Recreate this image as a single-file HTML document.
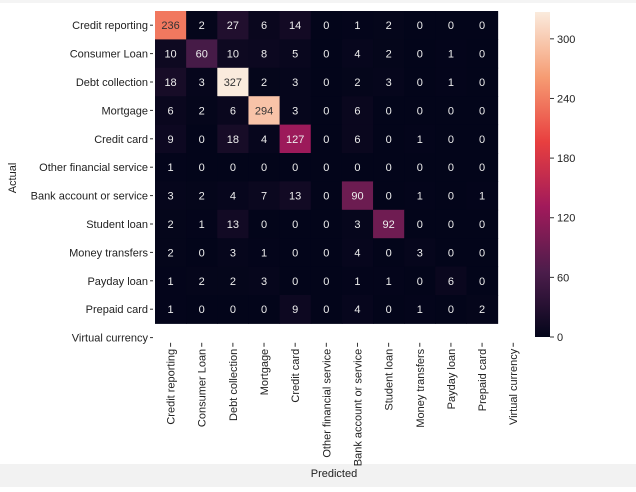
<!DOCTYPE html>
<html><head><meta charset="utf-8"><style>
body{margin:0;background:#fff;width:636px;height:487px;overflow:hidden;font-family:"Liberation Sans",sans-serif}
svg text{font-family:"Liberation Sans",sans-serif}
</style></head><body>
<svg id="chart" width="636" height="487" xmlns="http://www.w3.org/2000/svg">
<rect x="0" y="0" width="636" height="3" fill="#f4f4f4"/>
<rect x="0" y="464" width="636" height="23" fill="#f2f2f2"/>
<g id="cells"></g><g id="ylab"></g><g id="xlab"></g><g id="cbar"></g>
<text x="16" y="178" transform="rotate(-90 16 178)" text-anchor="middle" font-size="11" fill="#222">Actual</text>
<text x="334" y="477" text-anchor="middle" font-size="11" fill="#222">Predicted</text>
</svg>
<script>
const rowLabels=["Credit reporting","Consumer Loan","Debt collection","Mortgage","Credit card","Other financial service","Bank account or service","Student loan","Money transfers","Payday loan","Prepaid card","Virtual currency"];
const colLabels=["Credit reporting","Consumer Loan","Debt collection","Mortgage","Credit card","Other financial service","Bank account or service","Student loan","Money transfers","Payday loan","Prepaid card","Virtual currency"];
const matrix=[
[236,2,27,6,14,0,1,2,0,0,0],
[10,60,10,8,5,0,4,2,0,1,0],
[18,3,327,2,3,0,2,3,0,1,0],
[6,2,6,294,3,0,6,0,0,0,0],
[9,0,18,4,127,0,6,0,1,0,0],
[1,0,0,0,0,0,0,0,0,0,0],
[3,2,4,7,13,0,90,0,1,0,1],
[2,1,13,0,0,0,3,92,0,0,0],
[2,0,3,1,0,0,4,0,3,0,0],
[1,2,2,3,0,0,1,1,0,6,0],
[1,0,0,0,9,0,4,0,1,0,2]];
const cbTicks=[0,60,120,180,240,300];
const NS="http://www.w3.org/2000/svg";
const x0=155,y0=11,cw=31.15,ch=28.4;
const vmax=Math.max(...matrix.flat());
const xPos=i=>x0+i*cw, yPos=j=>y0+j*ch;
const stops=[[3,5,26],[76,29,75],[161,26,91],[232,63,63],[246,156,115],[250,235,221]];
function cmap(t){t=Math.max(0,Math.min(1,t))*5;const i=Math.min(4,Math.floor(t)),f=t-i;const a=stops[i],b=stops[i+1];return `rgb(${a.map((v,k)=>Math.round(v+(b[k]-v)*f)).join(",")})`;}
function mk(tag,attrs,parent,txt){const e=document.createElementNS(NS,tag);for(const k in attrs)e.setAttribute(k,attrs[k]);if(txt!==undefined)e.textContent=txt;parent.appendChild(e);return e;}
const cells=document.getElementById('cells');
matrix.forEach((row,r)=>row.forEach((v,c)=>{
 const t=v/vmax;
 const rc=mk('rect',{x:xPos(c),y:yPos(r),width:cw+0.5,height:ch+0.5,fill:cmap(t)},cells);
 
 
 const tx=mk('text',{x:xPos(c)+cw/2,y:yPos(r)+ch/2+4,'text-anchor':'middle','font-size':'11',fill:t>0.6?'#333':'#eee'},cells,String(v));
 
 
}));
const yl=document.getElementById('ylab');
rowLabels.forEach((l,i)=>{
 const y=yPos(i)+ch/2;
 mk('line',{x1:x0-5,x2:x0-2,y1:y,y2:y,stroke:'#333'},yl);
 const t=mk('text',{x:x0-7,y:y+4,'text-anchor':'end','font-size':'11',fill:'#222'},yl,l);
 
 
});
const xl=document.getElementById('xlab');
colLabels.forEach((l,i)=>{
 const x=xPos(i)+cw/2, y=y0+12*ch;
 mk('line',{x1:x,x2:x,y1:y-9,y2:y-5,stroke:'#333'},xl);
 const t=mk('text',{x:x+4,y:y-3,'text-anchor':'end','font-size':'11',fill:'#222',transform:`rotate(-90 ${x+4} ${y-3})`},xl,l);
 
 
});
const cb=document.getElementById('cbar');
const cbx=535,cbw=15,cbTop=12,cbBot=337;
const cbY=v=>cbBot-(v/vmax)*(cbBot-cbTop);
const grad=mk('linearGradient',{id:'g',x1:0,y1:1,x2:0,y2:0},mk('defs',{},cb));
for(let i=0;i<=20;i++)mk('stop',{offset:i/20,'stop-color':cmap(i/20)},grad);
const cr=mk('rect',{x:cbx,y:cbTop,width:cbw,height:cbBot-cbTop,fill:'url(#g)'},cb);


cbTicks.forEach(v=>{
 const y=cbY(v);
 mk('line',{x1:cbx+cbw,x2:cbx+cbw+4,y1:y,y2:y,stroke:'#333'},cb);
 const t=mk('text',{x:cbx+cbw+7,y:y+4,'font-size':'11',fill:'#222'},cb,String(v));
 
 
});
</script>
</body></html>
